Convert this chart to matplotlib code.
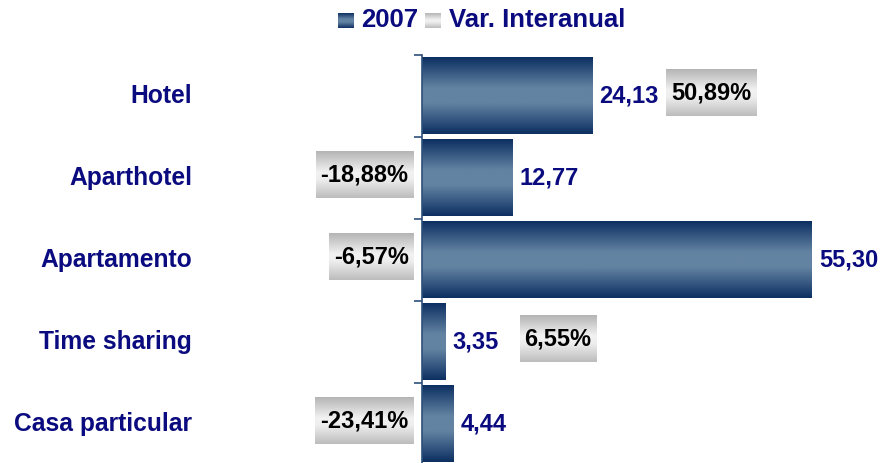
import numpy as np
import matplotlib.pyplot as plt
from matplotlib.colors import LinearSegmentedColormap

# data
categories = ['Hotel', 'Aparthotel', 'Apartamento', 'Time sharing', 'Casa particular']
values_2007 = [24.13, 12.77, 55.30, 3.35, 4.44]
var_interanual = [50.89, -18.88, -6.57, 6.55, -23.41]

navy = '#0b0b80'
bar_cmap = LinearSegmentedColormap.from_list(
    'bar', [(0, '#0c2f62'), (0.4, '#6383a2'), (0.6, '#6383a2'), (1, '#0c2f62')])
box_cmap = LinearSegmentedColormap.from_list(
    'box', [(0, '#b4b4b4'), (0.45, '#f2f2f2'), (0.6, '#eeeeee'), (1, '#bcbcbc')])
grad = np.linspace(0, 1, 256).reshape(-1, 1)

plt.rcParams['font.family'] = ['Liberation Sans', 'DejaVu Sans']

fig = plt.figure(figsize=(8.81, 4.63), dpi=100)
ax = fig.add_axes([422 / 881, -2 / 463, 459 / 881, 410 / 463])

y = np.arange(len(categories))
bar_h = 0.93
for yi, v in zip(y, values_2007):
    ax.imshow(grad, cmap=bar_cmap, aspect='auto', extent=[0, v, yi + bar_h / 2, yi - bar_h / 2],
              interpolation='bicubic', zorder=2)
    ax.text(v + 1.0, yi, f'{v:.2f}'.replace('.', ','), color=navy, fontsize=17,
            fontweight='bold', va='center', ha='left', zorder=3)

ax.set_xlim(0, 459 / 7.05)
ax.set_ylim(len(categories) - 0.5, -0.5)

for side in ['top', 'right', 'bottom']:
    ax.spines[side].set_visible(False)
ax.spines['left'].set_color('#2d4f7a')
ax.spines['left'].set_linewidth(1.2)
ax.set_xticks([])
ax.set_yticks(y)
ax.set_yticklabels([])
ax.tick_params(axis='y', which='major', length=0)
ax.set_yticks(np.arange(-0.5, len(categories)), minor=True)
ax.tick_params(axis='y', which='minor', length=6, width=1.2, color='#2d4f7a', direction='out')

# category labels
for yi, c in zip(y, categories):
    ax.annotate(c, xy=(0, yi), xycoords=('axes fraction', 'data'), xytext=(-230, 0),
                textcoords='offset pixels', ha='right', va='center', color=navy,
                fontsize=17.7, fontweight='bold')

# percentage boxes
fig.canvas.draw()
renderer = fig.canvas.get_renderer()
for yi, v, p in zip(y, values_2007, var_interanual):
    label = f'{p:.2f}'.replace('.', ',') + '%'
    if p >= 0:
        t = ax.text(v + 10.6 + 0.6, yi - 0.04, label, ha='left', va='center', fontsize=17,
                    fontweight='bold', color='black', zorder=5, clip_on=False)
    else:
        t = ax.text(-1.9, yi - 0.04, label, ha='right', va='center', fontsize=17,
                    fontweight='bold', color='black', zorder=5, clip_on=False)
    bb = t.get_window_extent(renderer)
    x0, x1 = bb.x0 - 5, bb.x1 + 5
    yc = (bb.y0 + bb.y1) / 2
    y0, y1 = yc - 23, yc + 24
    inv = ax.transData.inverted()
    (dx0, dy0), (dx1, dy1) = inv.transform([(x0, y0), (x1, y1)])
    ax.imshow(grad, cmap=box_cmap, aspect='auto', extent=[dx0, dx1, dy0, dy1],
              interpolation='bicubic', zorder=4, clip_on=False)
ax.set_xlim(0, 459 / 7.05)
ax.set_ylim(len(categories) - 0.5, -0.5)

# legend
for x_px, cmap, txt, tx in [(338, bar_cmap, '2007', 361),
                            (425, box_cmap, 'Var. Interanual', 449)]:
    lax = fig.add_axes([x_px / 881, (463 - 28) / 463, 16 / 881, 15 / 463])
    lax.imshow(grad, cmap=cmap, aspect='auto', interpolation='bicubic')
    lax.axis('off')
    fig.text(tx / 881, (463 - 20) / 463, txt, ha='left', va='center', color=navy,
             fontsize=18.5, fontweight='bold')

fig.savefig('out.png', dpi=100)
